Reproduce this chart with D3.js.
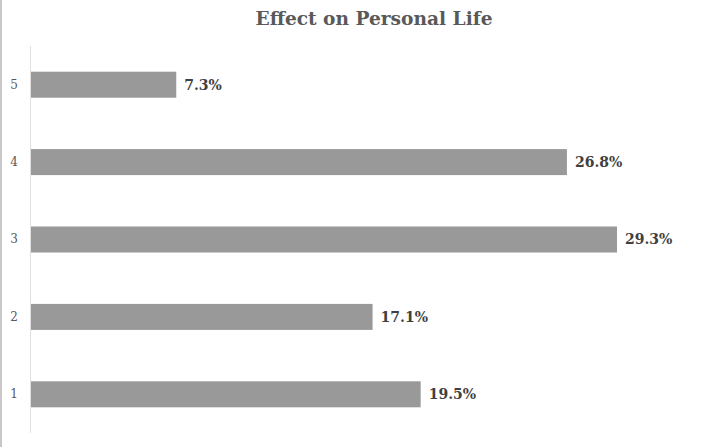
<!DOCTYPE html>
<html><head><meta charset="utf-8">
<script src="https://cdn.jsdelivr.net/npm/d3@7"></script>
<style>html,body{margin:0;padding:0;background:#fff;overflow:hidden}</style>
</head><body>
<script>
const categories = ["1","2","3","4","5"];
const values = [19.5, 17.1, 29.3, 26.8, 7.3];
const valueLabels = ["19.5%","17.1%","29.3%","26.8%","7.3%"];
const title = "Effect on Personal Life";

const W = 718, H = 447;
const svg = d3.select("body").append("svg").attr("width", W).attr("height", H);
svg.append("rect").attr("width", W).attr("height", H).attr("fill", "#fff");
// left frame border
svg.append("line").attr("x1", 1).attr("x2", 1).attr("y1", 0).attr("y2", H)
  .attr("stroke", "#c8c8c8").attr("stroke-width", 2);

const x = d3.scaleLinear().domain([0, 29.3]).range([30, 617]);
const y = d3.scaleBand().domain(categories.slice().reverse()).range([46, 433]).paddingInner(0.664).paddingOuter(0.332);

svg.append("text").attr("x", 374).attr("y", 25).attr("text-anchor", "middle")
  .attr("font-family", "DejaVu Serif").attr("font-weight", "bold").attr("font-size", 18.6)
  .attr("fill", "#595959").text(title);

svg.selectAll("rect.bar").data(values).join("rect").attr("class", "bar")
  .attr("x", x(0)).attr("y", (d, i) => y(categories[i]))
  .attr("width", d => x(d) - x(0)).attr("height", y.bandwidth())
  .attr("fill", "#999999");

svg.append("line").attr("x1", 30.5).attr("x2", 30.5).attr("y1", 46).attr("y2", 433)
  .attr("stroke", "#e0e0e0").attr("stroke-width", 1);

const yAxis = svg.append("g").attr("transform", "translate(30,0)")
  .call(d3.axisLeft(y).tickSize(0).tickPadding(12));
yAxis.select(".domain").remove();
yAxis.selectAll("text").attr("font-family", "DejaVu Serif").attr("font-size", 12).attr("fill", "#595959");

svg.selectAll("text.val").data(values).join("text").attr("class", "val")
  .attr("x", d => x(d) + 8).attr("y", (d, i) => y(categories[i]) + y.bandwidth() / 2)
  .attr("dy", "0.35em")
  .attr("font-family", "DejaVu Serif").attr("font-weight", "bold").attr("font-size", 14)
  .attr("fill", "#404040").text((d, i) => valueLabels[i]);
</script>
</body></html>
